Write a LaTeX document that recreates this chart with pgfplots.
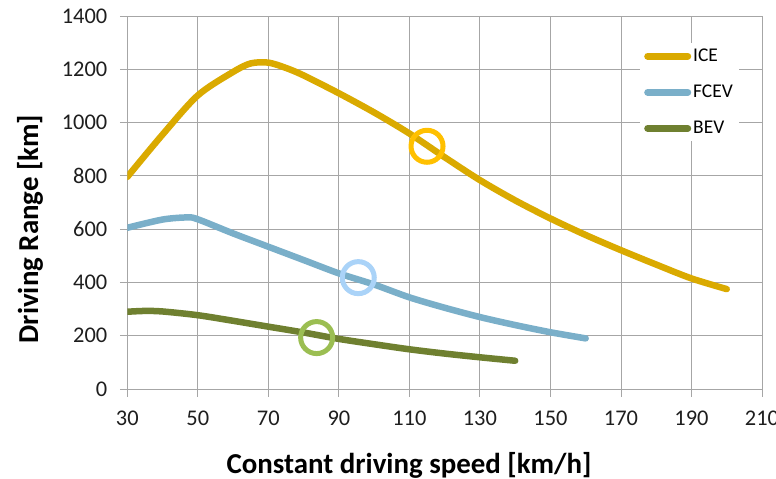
\documentclass[border=0pt]{standalone}
\usepackage{pgfplots}
\pgfplotsset{compat=1.18}
\usepackage{fontspec}
\setmainfont{Carlito}
\definecolor{iceC}{RGB}{218,170,0}
\definecolor{fcevC}{RGB}{122,175,201}
\definecolor{bevC}{RGB}{111,128,48}
\definecolor{iceO}{RGB}{255,192,0}
\definecolor{fcevO}{RGB}{170,211,248}
\definecolor{bevO}{RGB}{155,190,82}
\definecolor{gridC}{RGB}{166,166,166}
\definecolor{txtC}{RGB}{30,30,30}
\begin{document}
\begin{tikzpicture}
\useasboundingbox (-127.3bp,-90bp) rectangle (648.7bp,389bp);
\begin{axis}[
  at={(0,0)}, anchor=south west,
  scale only axis, width=634.7bp, height=373bp,
  xmin=30, xmax=210, ymin=0, ymax=1400,
  xtick={30,50,...,210}, ytick={0,200,...,1400},
  grid=major, grid style={gridC, line width=0.9bp},
  axis lines*=left,
  axis line style={gridC, line width=0.9bp},
  tick align=outside, major tick length=7.5bp,
  tick style={gridC, line width=0.9bp},
  ticklabel style={font=\fontsize{22.5}{26}\selectfont, text=txtC},
  yticklabel style={xshift=-9bp},
  xticklabel style={yshift=-11bp},
  /pgf/number format/assume math mode=true,
  /pgf/number format/1000 sep={},
  xlabel={Constant driving speed [km/h]},
  ylabel={Driving Range [km]},
  label style={font=\bfseries\fontsize{29}{32}\selectfont, text=black},
  xlabel style={at={(axis description cs:0.4438,-0.2038)}, anchor=center},
  ylabel style={at={(axis description cs:-0.1533,0.429)}, anchor=center},
  legend style={at={(axis description cs:0.8078,0.9276)}, anchor=north west,
    draw=none, fill=white, font=\fontsize{19.5}{22}\selectfont,
    inner xsep=4bp, inner ysep=4bp, row sep=18bp,
    cells={anchor=west}},
  legend image code/.code={\draw[#1, line width=7bp, line cap=round] (0bp,0bp) -- (40bp,0bp);},
]
\addplot[iceC, line width=6.5bp, line cap=round, smooth] coordinates {
(30,796) (40,955) (50,1102) (60,1190) (65,1222) (70,1225) (75,1205) (80,1177)
(90,1110) (100,1038) (110,959) (120,870) (130,784) (140,708) (150,640)
(160,578) (170,521) (180,467) (190,415) (200,375)};
\addlegendentry{ICE}
\addplot[fcevC, line width=6.5bp, line cap=round, smooth] coordinates {
(30,605) (40,636) (47,644) (50,637) (60,584) (70,534) (80,484) (90,434)
(100,392) (110,344) (120,305) (130,270) (140,240) (150,213) (160,190)};
\addlegendentry{FCEV}
\addplot[bevC, line width=6.5bp, line cap=round, smooth] coordinates {
(30,290) (35,293) (40,291) (50,277) (60,256) (70,234) (80,212) (90,188)
(100,168) (110,149) (120,133) (130,119) (140,106)};
\addlegendentry{BEV}
\addplot[only marks, mark=o, mark size=16bp, mark options={line width=5bp, draw=iceO}, forget plot] coordinates {(115,911)};
\addplot[only marks, mark=o, mark size=16bp, mark options={line width=5bp, draw=fcevO}, forget plot] coordinates {(95.5,418)};
\addplot[only marks, mark=o, mark size=16bp, mark options={line width=5bp, draw=bevO}, forget plot] coordinates {(83.7,193)};
\end{axis}
\end{tikzpicture}
\end{document}
